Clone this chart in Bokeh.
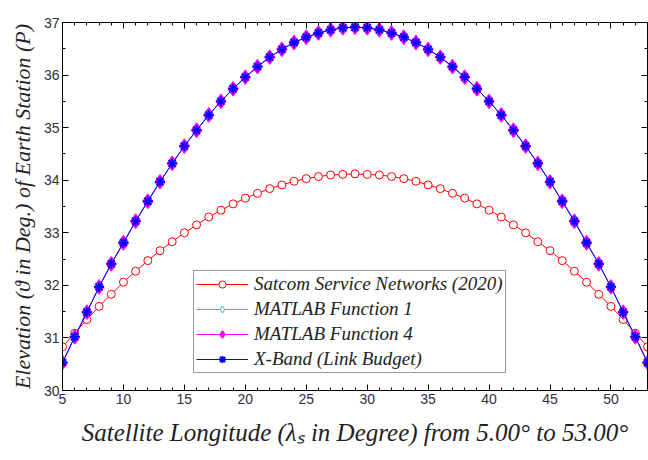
from bokeh.plotting import figure
from bokeh.models import (Range1d, LinearAxis, Legend, LegendItem, SingleIntervalTicker,
                          CustomJSTickFormatter)
from bokeh.embed import file_html
from bokeh.resources import INLINE

# ---- data ----
longitude = list(range(5, 54))

satcom_2020 = [30.83, 31.09, 31.35, 31.60, 31.83, 32.06, 32.27, 32.47, 32.66, 32.83,
               33.00, 33.15, 33.30, 33.43, 33.55, 33.66, 33.75, 33.84, 33.91, 33.98,
               34.03, 34.07, 34.10, 34.11, 34.12,
               34.11, 34.10, 34.07, 34.03, 33.98, 33.91, 33.84, 33.75, 33.66, 33.55,
               33.43, 33.30, 33.15, 33.00, 32.83, 32.66, 32.47, 32.27, 32.06, 31.83,
               31.60, 31.35, 31.09, 30.83]

xband_link_budget = [30.53, 31.02, 31.49, 31.97, 32.41, 32.81, 33.22, 33.60, 33.97, 34.32,
                     34.65, 34.95, 35.24, 35.50, 35.74, 35.96, 36.16, 36.34, 36.49, 36.62,
                     36.72, 36.80, 36.86, 36.90, 36.91,
                     36.90, 36.86, 36.80, 36.72, 36.62, 36.49, 36.34, 36.16, 35.96, 35.74,
                     35.50, 35.24, 34.95, 34.65, 34.32, 33.97, 33.60, 33.22, 32.81, 32.41,
                     31.97, 31.49, 31.02, 30.53]

matlab_function_1 = list(xband_link_budget)
matlab_function_4 = list(xband_link_budget)

series_names = ["Satcom Service Networks (2020)", "MATLAB Function 1",
                "MATLAB Function 4", "X-Band (Link Budget)"]

x_label = "Satellite Longitude (λₛ in Degree) from 5.00° to 53.00°"
y_label = "Elevation (ϑ in Deg.) of Earth Station (P)"

# ---- figure ----
p = figure(width=648, height=460, output_backend="svg", toolbar_location=None,
           x_range=Range1d(5, 53), y_range=Range1d(30, 37),
           min_border_left=62, min_border_right=1, min_border_top=22, min_border_bottom=70)
p.xgrid.visible = False
p.ygrid.visible = False
p.outline_line_color = "black"
p.outline_line_width = 1
p.background_fill_color = "white"
p.border_fill_color = "white"

tick_color = "#2e2e3e"
serif = "Liberation Serif"

xt = SingleIntervalTicker(interval=5, num_minor_ticks=5)
yt = SingleIntervalTicker(interval=1, num_minor_ticks=2)

for ax, t in ((p.xaxis[0], xt), (p.yaxis[0], yt)):
    ax.ticker = t
    ax.major_tick_in = 6
    ax.major_tick_out = 0
    ax.minor_tick_in = 3
    ax.minor_tick_out = 0
    ax.axis_line_color = "black"
    ax.major_tick_line_color = "black"
    ax.minor_tick_line_color = "black"
    ax.major_label_text_font = "Liberation Sans"
    ax.major_label_text_font_size = "14px"
    ax.major_label_text_color = tick_color
    ax.major_label_standoff = 3
    ax.axis_label_text_font = serif
    ax.axis_label_text_font_style = "italic"
    ax.axis_label_text_color = "#222222"

p.xaxis[0].axis_label = x_label
p.yaxis[0].axis_label = y_label
p.xaxis[0].axis_label_text_font_size = "25px"
p.yaxis[0].axis_label_text_font_size = "22px"
p.xaxis[0].axis_label_standoff = 12
p.yaxis[0].axis_label_standoff = 6

blank = CustomJSTickFormatter(code="return '';")
top = LinearAxis(ticker=SingleIntervalTicker(interval=5, num_minor_ticks=5), formatter=blank)
right = LinearAxis(ticker=SingleIntervalTicker(interval=1, num_minor_ticks=2), formatter=blank)
for ax in (top, right):
    ax.major_tick_in = 6
    ax.major_tick_out = 0
    ax.minor_tick_in = 3
    ax.minor_tick_out = 0
    ax.major_label_standoff = 0
    ax.axis_line_color = "black"
p.add_layout(top, "above")
p.add_layout(right, "right")

# ---- series ----
r1l = p.line(longitude, satcom_2020, line_color="red", line_width=1)
r1m = p.scatter(longitude, satcom_2020, marker="circle", size=8,
                line_color="red", fill_color="white", line_width=1)

r2l = p.line(longitude, matlab_function_1, line_color="#22c8c8", line_width=1)
r2m = p.scatter(longitude, matlab_function_1, marker="diamond", size=12,
                line_color="#22c8c8", fill_color="white", line_width=1)

r3l = p.line(longitude, matlab_function_4, line_color="magenta", line_width=1)
r3m = p.scatter(longitude, matlab_function_4, marker="diamond", size=14,
                line_color="magenta", fill_color="magenta", line_width=1.5)

r4l = p.line(longitude, xband_link_budget, line_color="blue", line_width=1)
r4m = p.scatter(longitude, xband_link_budget, marker="asterisk", size=10,
                line_color="blue", line_width=1.8)

legend = Legend(items=[
    LegendItem(label=series_names[0], renderers=[r1l, r1m]),
    LegendItem(label=series_names[1], renderers=[r2l, r2m]),
    LegendItem(label=series_names[2], renderers=[r3l, r3m]),
    LegendItem(label=series_names[3], renderers=[r4l, r4m]),
], location=(131, 17))
legend.label_text_font = serif
legend.label_text_font_style = "italic"
legend.label_text_font_size = "19px"
legend.label_text_color = "#222222"
legend.glyph_width = 52
legend.glyph_height = 18
legend.label_height = 18
legend.spacing = 3
legend.padding = 2
legend.margin = 0
legend.label_standoff = 6
legend.border_line_color = "#333333"
legend.border_line_width = 1
legend.background_fill_color = "white"
legend.background_fill_alpha = 1
p.add_layout(legend, "center")

open("out.html", "w").write(file_html(p, INLINE))
